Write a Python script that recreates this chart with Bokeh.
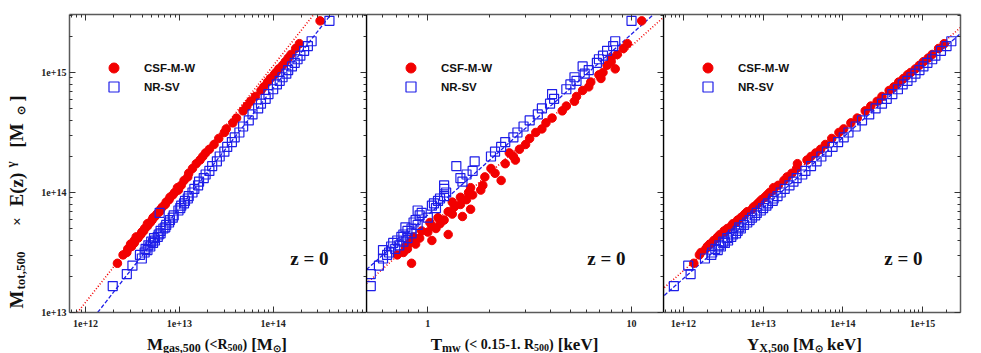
import numpy as np
from bokeh.plotting import figure
from bokeh.layouts import row, column
from bokeh.models import (Range1d, LogAxis, FixedTicker, CustomJSTickFormatter,
                          Label, Legend, LegendItem)
from bokeh.embed import file_html
from bokeh.resources import INLINE

# ---------------- data (log10 values) ----------------
# CSF-M-W (red filled circles)
log_mtot_csf = [13.41, 13.48, 13.50, 13.53, 13.55, 13.57, 13.58, 13.60, 13.62, 13.63,
                13.65, 13.67, 13.68, 13.70, 13.72, 13.74, 13.75, 13.77, 13.79, 13.80,
                13.82, 13.84, 13.86, 13.88, 13.90, 13.92, 13.94, 13.96, 13.98, 14.00,
                14.02, 14.04, 14.06, 14.10, 14.13, 14.16, 14.20, 14.24, 14.27, 14.30,
                14.33, 14.36, 14.40, 14.45, 14.50, 14.53, 14.58, 14.62, 14.68, 14.72,
                14.76, 14.80, 14.85, 14.88, 14.92, 14.95, 14.98, 15.00, 15.03, 15.06,
                15.09, 15.12, 15.15, 15.20, 15.24, 15.43]
log_mgas_csf = [12.34, 12.40, 12.44, 12.45, 12.49, 12.48, 12.52, 12.52, 12.56, 12.54,
                12.59, 12.60, 12.62, 12.63, 12.66, 12.66, 12.69, 12.71, 12.72, 12.74,
                12.76, 12.79, 12.80, 12.82, 12.85, 12.86, 12.89, 12.90, 12.93, 12.95,
                12.99, 12.98, 13.02, 13.05, 13.09, 13.10, 13.14, 13.18, 13.22, 13.25,
                13.28, 13.32, 13.37, 13.42, 13.48, 13.50, 13.57, 13.61, 13.68, 13.72,
                13.76, 13.81, 13.87, 13.90, 13.94, 13.97, 14.01, 14.03, 14.06, 14.10,
                14.13, 14.16, 14.19, 14.24, 14.28, 14.50]
log_tmw_csf = [-0.08, -0.15, -0.12, -0.10, -0.11, -0.06, -0.09, 0.02, -0.04, -0.07,
               0.10, 0.00, -0.03, 0.04, 0.02, 0.06, 0.01, 0.08, 0.05, 0.17,
               0.12, 0.10, 0.21, 0.13, 0.16, 0.12, 0.19, 0.16, 0.22, 0.20,
               0.26, 0.21, 0.27, 0.36, 0.28, 0.33, 0.31, 0.38, 0.43, 0.42,
               0.40, 0.45, 0.48, 0.50, 0.53, 0.56, 0.58, 0.61, 0.66, 0.68,
               0.72, 0.73, 0.76, 0.79, 0.80, 0.85, 0.84, 0.86, 0.92, 0.88,
               0.90, 0.90, 0.93, 0.96, 0.98, 1.05]
log_yx_csf = [12.13, 12.20, 12.22, 12.28, 12.30, 12.33, 12.36, 12.38, 12.42, 12.43,
              12.46, 12.52, 12.51, 12.55, 12.60, 12.62, 12.66, 12.68, 12.72, 12.74,
              12.77, 12.80, 12.86, 12.88, 12.92, 12.95, 12.98, 13.02, 13.05, 13.08,
              13.13, 13.13, 13.19, 13.26, 13.30, 13.36, 13.42, 13.43, 13.55, 13.60,
              13.66, 13.72, 13.78, 13.86, 13.95, 14.01, 14.10, 14.18, 14.28, 14.35,
              14.43, 14.49, 14.58, 14.64, 14.70, 14.76, 14.81, 14.85, 14.91, 14.96,
              15.01, 15.07, 15.12, 15.20, 15.27, 15.60]

# NR-SV (blue open squares)
log_mtot_nr = [13.22, 13.32, 13.39, 13.45, 13.48, 13.50, 13.52, 13.53, 13.55, 13.56,
               13.58, 13.59, 13.60, 13.62, 13.63, 13.65, 13.66, 13.68, 13.70, 13.71,
               13.73, 13.75, 13.77, 13.79, 13.81, 13.83, 13.85, 13.87, 13.89, 13.91,
               13.93, 13.95, 13.97, 14.00, 14.03, 14.06, 14.09, 14.12, 14.15, 14.18,
               14.22, 14.26, 14.30, 14.34, 14.38, 14.42, 14.46, 14.50, 14.55, 14.60,
               14.65, 14.70, 14.74, 14.78, 14.82, 14.86, 14.90, 14.93, 14.96, 14.99,
               15.02, 15.05, 15.08, 15.11, 15.14, 15.18, 15.22, 15.26, 15.43]
log_mgas_nr = [12.29, 12.44, 12.50, 12.60, 12.58, 12.63, 12.66, 12.64, 12.69, 12.67,
               12.72, 12.70, 12.74, 12.73, 12.77, 12.78, 12.80, 12.80, 12.83, 12.85,
               12.86, 12.89, 12.90, 12.93, 12.94, 12.79, 12.99, 13.01, 13.02, 13.05,
               13.06, 13.09, 13.10, 13.14, 13.16, 13.20, 13.21, 13.26, 13.28, 13.32,
               13.35, 13.40, 13.43, 13.48, 13.51, 13.56, 13.59, 13.64, 13.68, 13.74,
               13.78, 13.84, 13.87, 13.92, 13.95, 14.00, 14.04, 14.07, 14.10, 14.14,
               14.16, 14.20, 14.23, 14.26, 14.29, 14.33, 14.37, 14.41, 14.60]
log_tmw_nr = [-0.28, -0.28, -0.24, -0.22, -0.20, -0.19, -0.22, -0.16, -0.18, -0.14,
              -0.17, -0.12, -0.15, -0.10, -0.13, -0.12, -0.08, -0.10, -0.08, -0.11,
              -0.05, -0.07, -0.06, 0.00, -0.04, -0.03, -0.05, 0.04, 0.02, 0.03,
              0.05, 0.06, 0.08, 0.09, 0.08, 0.08, 0.17, 0.16, 0.19, 0.22,
              0.14, 0.23, 0.31, 0.33, 0.36, 0.38, 0.42, 0.44, 0.47, 0.50,
              0.54, 0.56, 0.60, 0.62, 0.61, 0.68, 0.70, 0.73, 0.72, 0.77,
              0.79, 0.76, 0.83, 0.84, 0.86, 0.88, 0.91, 0.92, 1.00]
log_yx_nr = [11.88, 12.09, 12.06, 12.27, 12.35, 12.36, 12.43, 12.40, 12.47, 12.45,
             12.52, 12.50, 12.56, 12.55, 12.60, 12.62, 12.66, 12.68, 12.72, 12.70,
             12.76, 12.80, 12.83, 12.86, 12.90, 12.92, 12.97, 13.00, 13.04, 13.06,
             13.12, 13.13, 13.18, 13.22, 13.27, 13.33, 13.38, 13.42, 13.49, 13.53,
             13.60, 13.67, 13.73, 13.80, 13.87, 13.94, 14.01, 14.07, 14.16, 14.24,
             14.33, 14.41, 14.49, 14.55, 14.62, 14.69, 14.75, 14.81, 14.86, 14.91,
             14.96, 15.01, 15.06, 15.12, 15.16, 15.23, 15.30, 15.36, 15.66]

# best-fit lines: two end points (log x, log y) per panel
fit_mgas_csf = ([11.914, 14.433], [13.0, 15.483])
fit_mgas_nr = ([12.129, 14.615], [13.0, 15.483])
fit_tmw_csf = ([-0.301, 1.157], [13.242, 15.46])
fit_tmw_nr = ([-0.301, 1.108], [13.358, 15.483])
fit_yx_csf = ([11.76, 15.475], [13.208, 15.375])
fit_yx_nr = ([11.76, 15.475], [13.142, 15.325])

series_labels = ["CSF-M-W", "NR-SV"]
redshift_label = "z = 0"

# axis titles: pieces (text, role, gap before in px)
x_titles = [
    [("M", "main", 0), ("gas,500", "sub", 0), ("(<R", "mid", 4), ("500", "sub2", 0),
     (")", "mid", 0), ("[M", "main", 4), ("\u2299", "sun", 0), ("]", "main", 0)],
    [("T", "main", 0), ("mw", "sub", 0), ("(< 0.15-1. R", "mid", 4), ("500", "sub2", 0),
     (")", "mid", 0), ("[keV]", "main", 4)],
    [("Y", "main", 0), ("X,500", "sub", 0), ("[M", "main", 4), ("\u2299", "sun", 0),
     ("keV]", "main", 4)],
]
y_title = ["M", "tot,500", "\u00d7", "E(z)", "\u03b3", "[M", "\u2299", "]"]

# ---------------- styling ----------------
RED = "#f20000"
BLUE = "#1e1ee8"
SERIF = "Liberation Serif"
SANS = "Liberation Sans"
FW, FH = 297, 298
TOP, BOTTOM = 14, 22
PLOT_H = TOP + FH + BOTTOM          # 334
YSTRIP_W = 30
LEFT1 = 69 - YSTRIP_W
RIGHT3 = 12
XSTRIP_H = 353 - PLOT_H
TOTAL_W = YSTRIP_W + LEFT1 + 3 * FW + RIGHT3
Y_RANGE = (1e13, 10 ** 15.483)

# approximate advance widths (Times-Bold metrics, per 1000 em) for title layout
ADV = {' ': 250, '(': 333, ')': 333, '<': 570, '[': 333, ']': 333, ',': 250, '.': 250,
       '-': 333, '0': 500, '1': 500, '5': 500, 'M': 944, 'R': 722, 'T': 667, 'Y': 722,
       'X': 722, 'E': 667, 'V': 722, 'a': 500, 'e': 444, 'g': 500, 'k': 556, 'm': 833,
       'o': 500, 's': 389, 't': 333, 'w': 722, 'z': 444, '\u00d7': 570, '\u03b3': 450,
       '\u2299': 838}
X_ROLE = {"main": (17, 0), "mid": (14, 0), "sub": (12, 3), "sub2": (10, 3), "sun": (10, 4)}


def text_width(s, size):
    return sum(ADV.get(c, 500) for c in s) / 1000.0 * size


def decade_ticks(lo, hi):
    major = [10.0 ** e for e in range(lo, hi + 1)]
    minor = [k * 10.0 ** e for e in range(lo - 1, hi + 1) for k in range(2, 10)]
    return major, minor


EXP_FMT = "return tick.toExponential(0);"
PLAIN_FMT = "return String(tick);"


def style_axis(ax, ticks, labels, fmt=None, line_color="#5a5a5a", with_ticks=True):
    ax.ticker = FixedTicker(ticks=ticks[0], minor_ticks=ticks[1])
    ax.axis_line_color = line_color
    ax.axis_line_width = 1.5
    ax.major_tick_out = 0
    ax.minor_tick_out = 0
    if with_ticks:
        ax.major_tick_in = 6
        ax.minor_tick_in = 3
        ax.major_tick_line_color = "#333333"
        ax.minor_tick_line_color = "#333333"
    else:
        ax.major_tick_in = 0
        ax.minor_tick_in = 0
        ax.major_tick_line_color = None
        ax.minor_tick_line_color = None
    if labels:
        ax.formatter = CustomJSTickFormatter(code=fmt)
        ax.major_label_text_font = SERIF
        ax.major_label_text_font_style = "bold"
        ax.major_label_text_font_size = "10px"
        ax.major_label_text_color = "#222222"
    else:
        ax.formatter = CustomJSTickFormatter(code="return '';")
        ax.major_label_text_font_size = "0px"
        ax.major_label_standoff = 0


def add_text(p, x, y, text, size, angle=0.0, align="left", font=SERIF):
    p.add_layout(Label(x=x, y=y, x_units="screen", y_units="screen", text=text,
                       text_font=font, text_font_style="bold",
                       text_font_size=f"{size}px", angle=angle,
                       text_align=align, text_baseline="alphabetic",
                       text_color="#111111"))


def make_legend(renderer, label, y):
    return Legend(items=[LegendItem(label=label, renderers=[renderer])],
                  location=(32, y), orientation="vertical",
                  border_line_color=None, background_fill_alpha=0,
                  padding=0, margin=0, spacing=0,
                  glyph_height=25, glyph_width=25, label_standoff=18, label_height=25,
                  label_text_font=SANS, label_text_font_style="bold",
                  label_text_font_size="11.5px", label_text_color="#111111")


def make_panel(idx, x_range, xticks, xfmt, red_x, blue_x, fit_red, fit_blue):
    first, last = idx == 0, idx == 2
    p = figure(x_axis_type="log", y_axis_type="log",
               x_range=Range1d(*x_range), y_range=Range1d(*Y_RANGE),
               frame_width=FW, frame_height=FH,
               min_border_left=LEFT1 if first else 0, min_border_right=RIGHT3 if last else 0,
               min_border_top=TOP, min_border_bottom=BOTTOM,
               output_backend="svg", toolbar_location=None,
               outline_line_color=None, background_fill_color="white",
               border_fill_color="white")
    p.grid.visible = False
    yticks = decade_ticks(13, 15)

    style_axis(p.xaxis[0], xticks, True, xfmt)
    p.xaxis[0].major_label_standoff = 7
    style_axis(p.yaxis[0], yticks, first, EXP_FMT,
               line_color="#5a5a5a" if first else "#000000", with_ticks=first)
    p.yaxis[0].major_label_standoff = 3

    top = LogAxis()
    style_axis(top, xticks, False)
    p.add_layout(top, "above")
    right = LogAxis()
    style_axis(right, yticks, False)
    p.add_layout(right, "right")

    p.line(10 ** np.array(fit_red[0]), 10 ** np.array(fit_red[1]),
           line_color=RED, line_width=1.6, line_dash="1 2")
    p.line(10 ** np.array(fit_blue[0]), 10 ** np.array(fit_blue[1]),
           line_color=BLUE, line_width=1.3, line_dash="4 2")

    r_red = p.scatter(10 ** np.array(red_x), 10 ** np.array(log_mtot_csf),
                      marker="circle", size=8.5, fill_color=RED, line_color=RED)
    r_blue = p.scatter(10 ** np.array(blue_x), 10 ** np.array(log_mtot_nr),
                       marker="square", size=9, fill_color=None,
                       line_color=BLUE, line_width=1.2)

    p.add_layout(make_legend(r_red, series_labels[0], 232))
    p.add_layout(make_legend(r_blue, series_labels[1], 213))

    add_text(p, FW - 38, 54, redshift_label, 19, align="right")
    return p


def make_strip(w, h):
    s = figure(frame_width=w, frame_height=h, x_range=Range1d(0, w), y_range=Range1d(0, h),
               min_border=0, x_axis_location=None, y_axis_location=None,
               toolbar_location=None, output_backend="svg",
               outline_line_color=None, border_fill_color="white")
    s.grid.visible = False
    return s


p1 = make_panel(0, (10 ** 11.829, 10 ** 14.995), decade_ticks(12, 14), EXP_FMT,
                log_mgas_csf, log_mgas_nr, fit_mgas_csf, fit_mgas_nr)
p2 = make_panel(1, (10 ** -0.301, 10 ** 1.157), decade_ticks(0, 1), PLAIN_FMT,
                log_tmw_csf, log_tmw_nr, fit_tmw_csf, fit_tmw_nr)
p3 = make_panel(2, (10 ** 11.75, 10 ** 15.475), decade_ticks(12, 15), EXP_FMT,
                log_yx_csf, log_yx_nr, fit_yx_csf, fit_yx_nr)

# y-axis title strip: rotated pieces, each centred where the reference shows it
ystrip = make_strip(YSTRIP_W, PLOT_H)
Y_POS = [(16, 285, 19), (20, 256, 13), (16, 207, 15), (16, 175, 19),
         (10, 150, 13), (16, 121, 19), (20, 96, 11), (16, 84, 19)]
for txt, (sx, py, size) in zip(y_title, Y_POS):
    add_text(ystrip, sx, PLOT_H - py, txt, size, angle=np.pi / 2, align="center")

# x-axis title strip: pieces laid out one after another, centred under each panel
xstrip = make_strip(TOTAL_W, XSTRIP_H)
MAIN_BASE = 344
X_CENTERS = [216.5, 514.0, 804.0]
for centre, pieces in zip(X_CENTERS, x_titles):
    total = sum(text_width(t, X_ROLE[r][0]) + g for t, r, g in pieces)
    x = centre - total / 2.0
    for t, r, g in pieces:
        size, drop = X_ROLE[r]
        x += g
        add_text(xstrip, x, 353 - (MAIN_BASE + drop), t, size)
        x += text_width(t, size)

layout = column(row(ystrip, p1, p2, p3, spacing=0), xstrip, spacing=0)
open("out.html", "w").write(file_html(layout, INLINE))
